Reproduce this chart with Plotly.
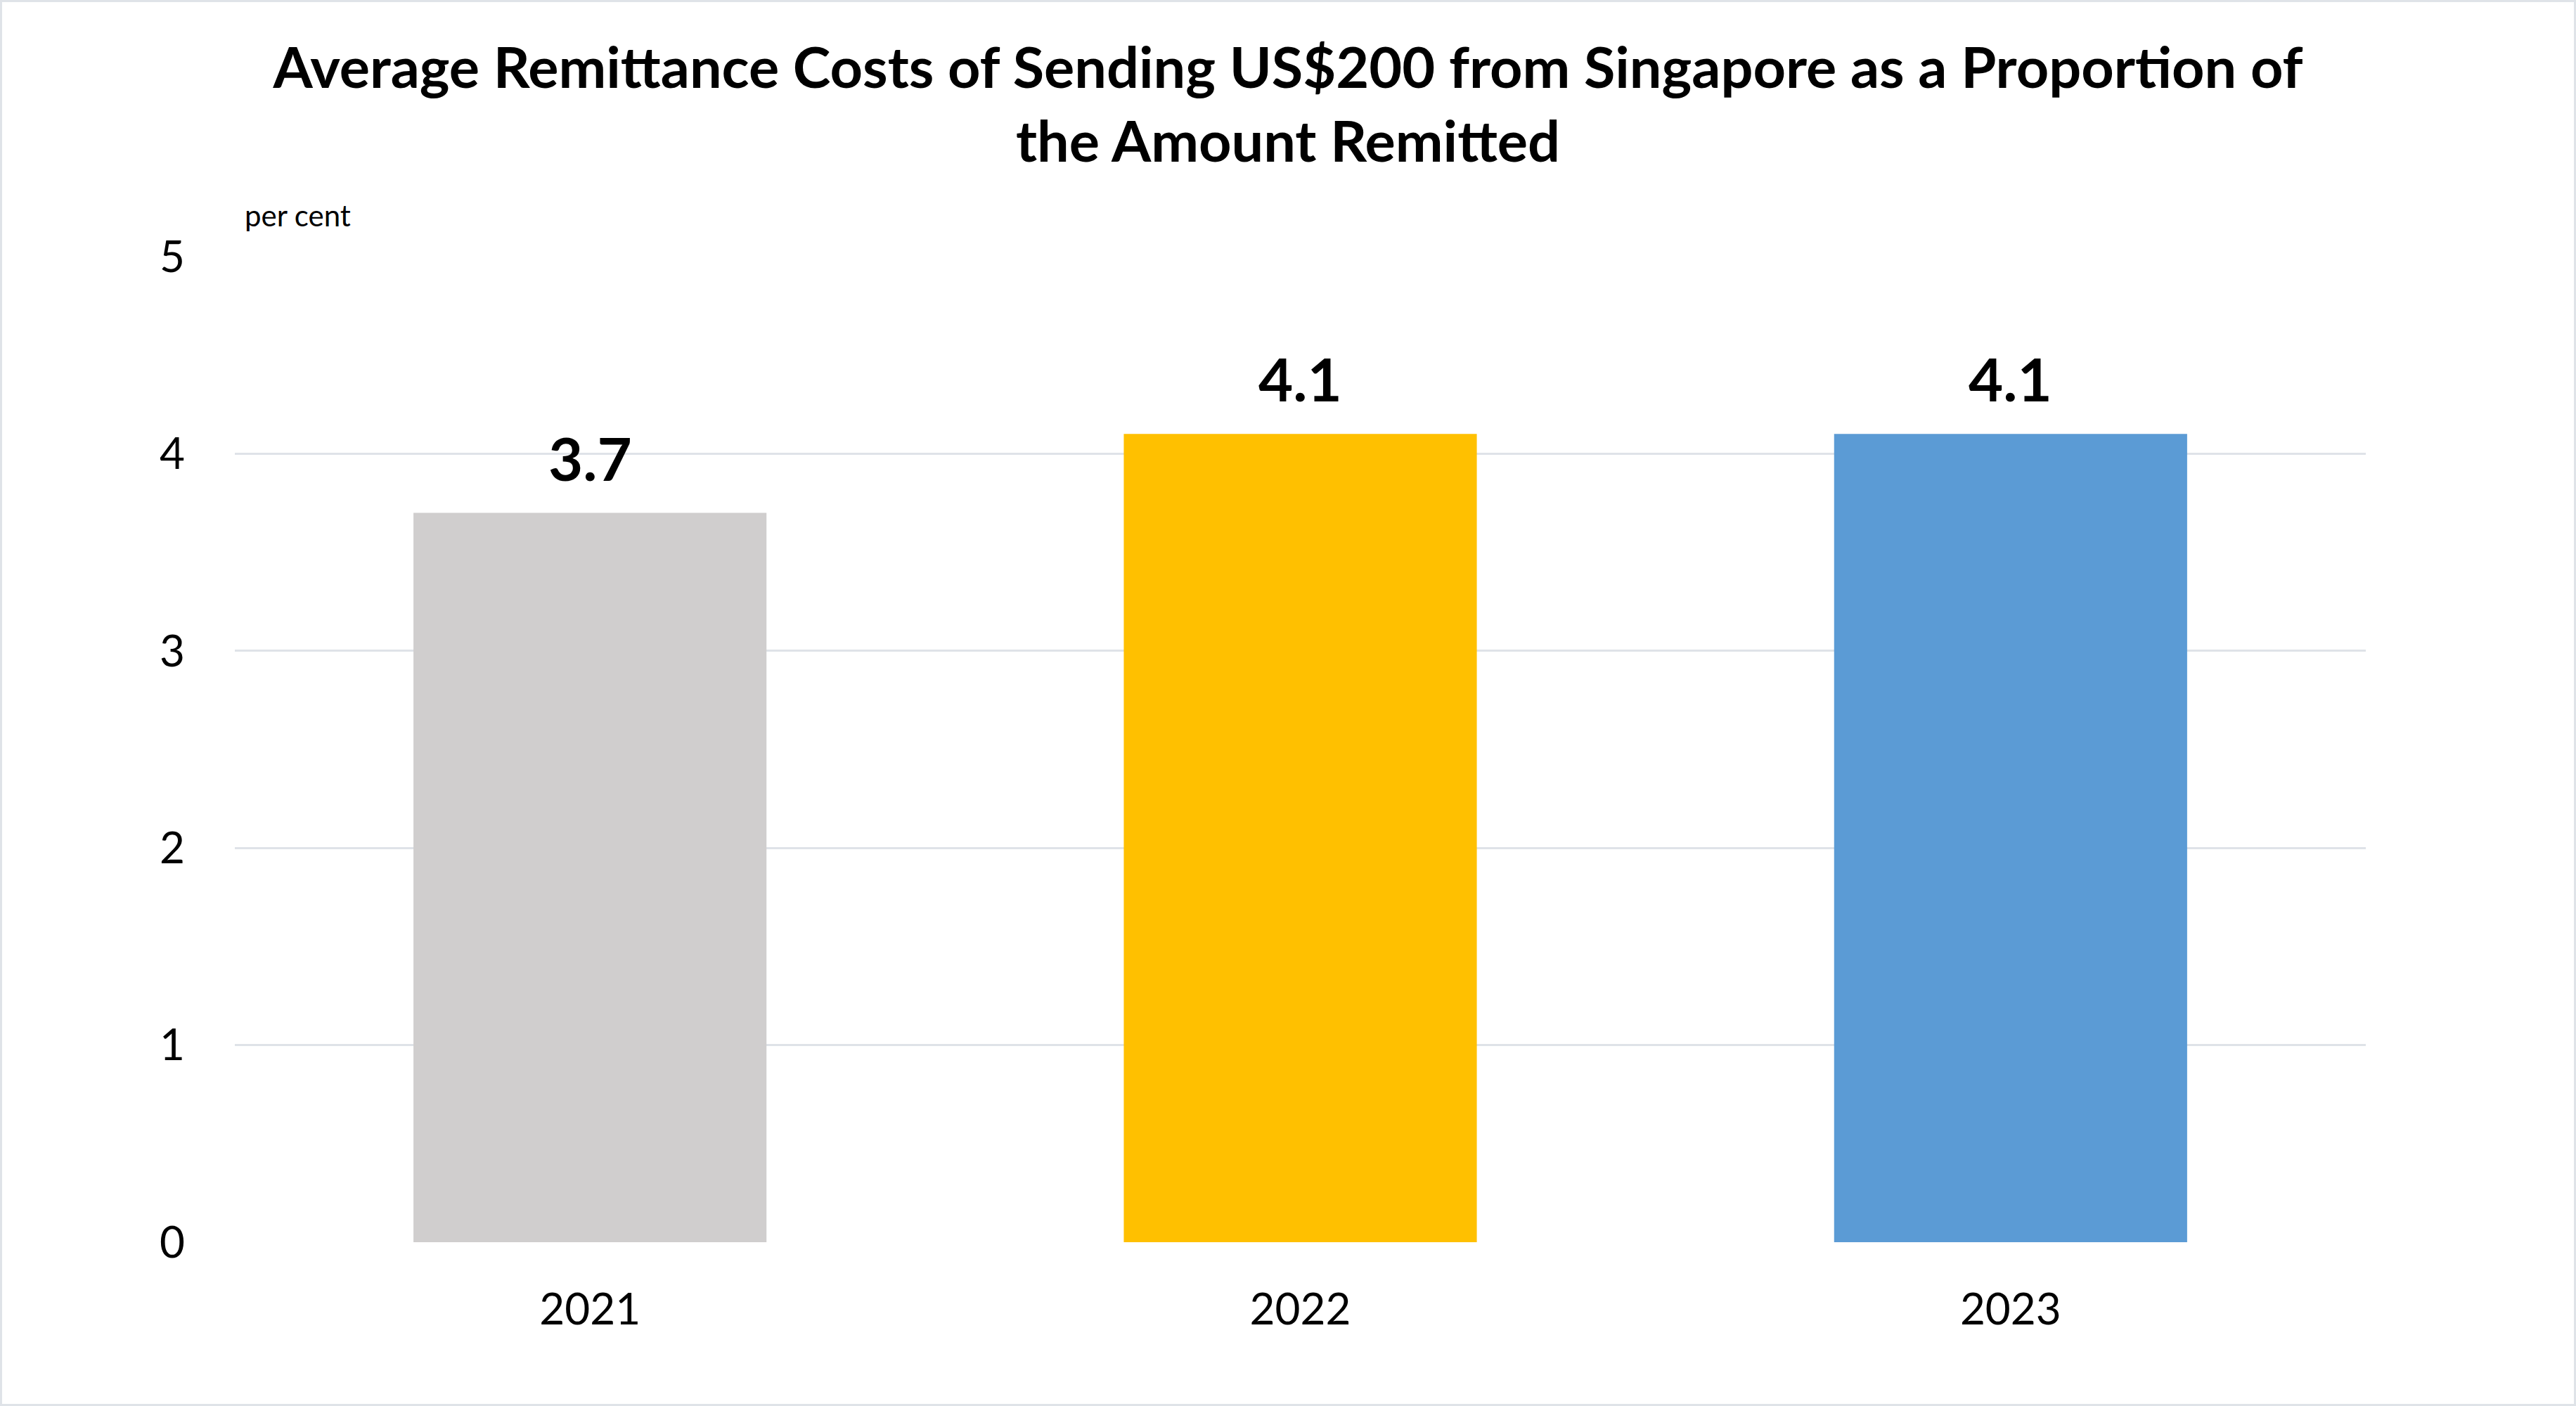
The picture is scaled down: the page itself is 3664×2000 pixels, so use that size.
import plotly.graph_objects as go

years = ["2021", "2022", "2023"]
costs = [3.7, 4.1, 4.1]
bar_colors = ["#D0CECE", "#FFC000", "#5B9BD5"]
labels = ["3.7", "4.1", "4.1"]
y_ticks = [0, 1, 2, 3, 4, 5]

FONT = "Lato"
W, H = 3664, 2000
ML, MR, MT, MB = 334, 299, 365, 233

fig = go.Figure()
fig.add_trace(go.Bar(
    x=years, y=costs, marker=dict(color=bar_colors, line=dict(width=0)),
    width=0.497, hoverinfo="skip",
))

for i, (v, lab) in enumerate(zip(costs, labels)):
    fig.add_annotation(x=i, y=v, text=f"<b>{lab}</b>", showarrow=False,
                       yanchor="bottom", yshift=26,
                       font=dict(family=FONT, size=85, color="#000000"))

fig.add_annotation(xref="paper", yref="paper", x=0.004, y=1.0, yshift=32,
                   xanchor="left", yanchor="bottom", text="per cent", showarrow=False,
                   font=dict(family=FONT, size=42, color="#000000"))

pw = W - ML - MR
ph = H - MT - MB
fig.add_shape(type="rect", xref="paper", yref="paper",
              x0=-(ML - 1.5) / pw, x1=1 + (MR - 1.5) / pw,
              y0=-(MB - 1.5) / ph, y1=1 + (MT - 1.5) / ph,
              line=dict(color="#DFE3E8", width=3), fillcolor="rgba(0,0,0,0)", layer="below")

fig.update_layout(
    width=W, height=H,
    margin=dict(l=ML, r=MR, t=MT, b=MB),
    paper_bgcolor="white", plot_bgcolor="white",
    showlegend=False,
    title=dict(
        text="<b>Average Remittance Costs of Sending US$200 from Singapore as a Proportion of<br>the Amount Remitted</b>",
        x=0.5, xanchor="center", y=1 - 125 / H, yanchor="middle",
        font=dict(family=FONT, size=81, color="#000000"),
    ),
    bargap=0.5,
)
fig.update_xaxes(type="category", range=[-0.5, 2.5], showgrid=False, showline=False,
                 zeroline=False, ticks="",
                 tickfont=dict(family=FONT, size=62, color="#000000"),
                 ticklabelstandoff=54)
fig.update_yaxes(range=[0, 5], tickvals=y_ticks, showgrid=True, gridcolor="#DFE3E8",
                 gridwidth=3, zeroline=False, showline=False, ticks="",
                 tickfont=dict(family=FONT, size=62, color="#000000"),
                 ticklabelstandoff=70)

fig.write_html("out.html")
